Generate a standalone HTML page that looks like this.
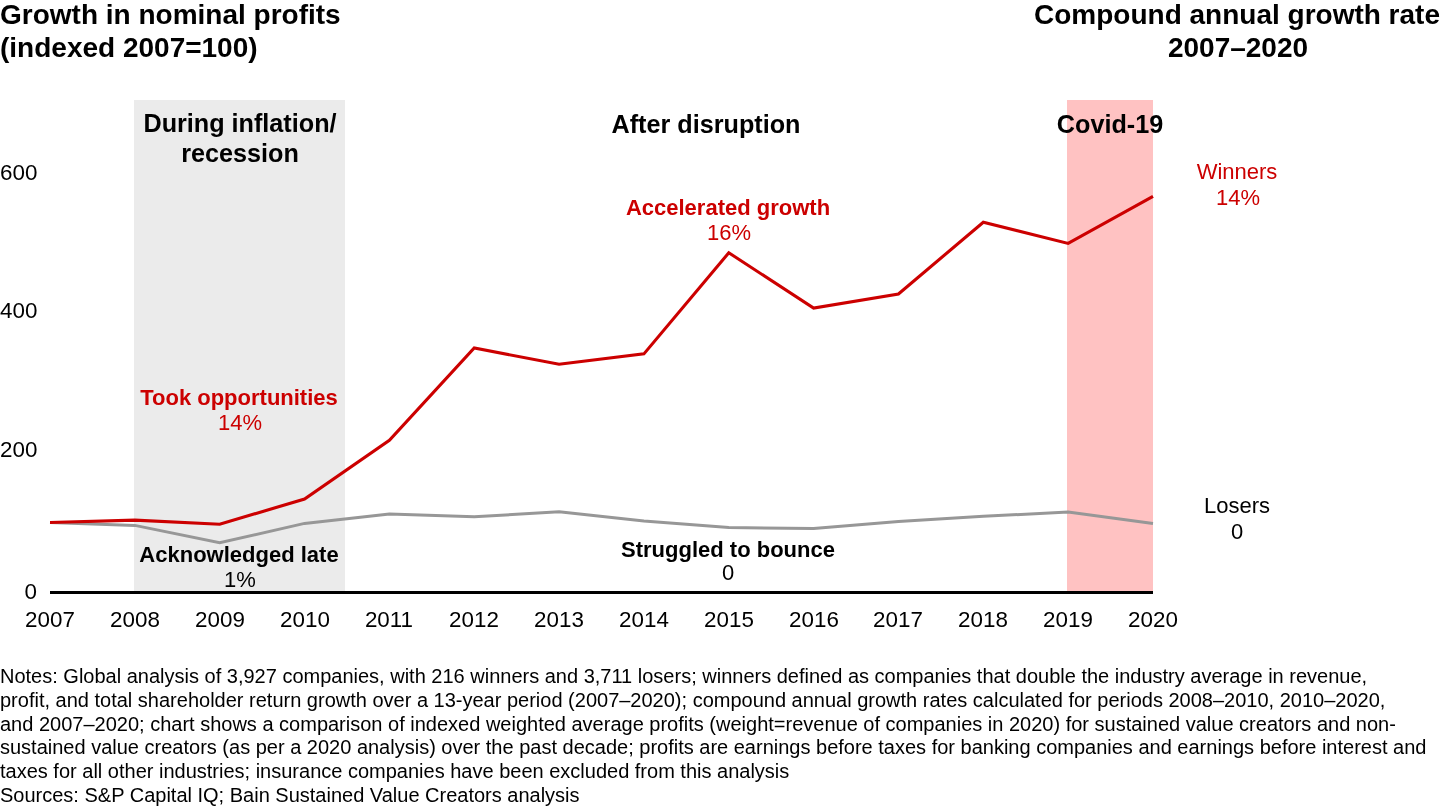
<!DOCTYPE html>
<html><head><meta charset="utf-8">
<style>
html,body{margin:0;padding:0;background:#fff;overflow:hidden;}
body{width:1440px;height:810px;position:relative;overflow:hidden;font-family:"Liberation Sans",sans-serif;color:#000;}
.t{position:absolute;white-space:nowrap;line-height:1;will-change:transform;}
svg{position:absolute;left:0;top:0;}
</style></head><body>
<svg width="1440" height="810" viewBox="0 0 1440 810">
<rect x="134" y="100" width="211" height="491" fill="#ebebeb"/>
<rect x="1067" y="100" width="86" height="491" fill="#ffc2c2"/>
<polyline fill="none" stroke="#979797" stroke-width="3.0" stroke-linejoin="miter" points="50.00,522.5 134.85,525.4 219.69,542.8 304.54,523.4 389.38,514 474.23,516.7 559.08,511.8 643.92,521 728.77,527.5 813.62,528.5 898.46,521.5 983.31,516.3 1068.15,512 1153.00,523.5"/>
<polyline fill="none" stroke="#cc0000" stroke-width="3.1" stroke-linejoin="miter" points="50.00,522.5 134.85,520.1 219.69,524.3 304.54,499 389.38,440.2 474.23,348 559.08,364.3 643.92,353.9 728.77,252.8 813.62,308.1 898.46,294 983.31,222.2 1068.15,243.4 1153.00,196.3"/>
<rect x="50" y="591" width="1103" height="3" fill="#000"/>
</svg>
<div class="t" id="t0" style="top:1.00px;font-size:28px;color:#000;font-weight:bold;left:0.00px;">Growth in nominal profits</div>
<div class="t" id="t1" style="top:34.20px;font-size:28px;color:#000;font-weight:bold;left:0.00px;">(indexed 2007=100)</div>
<div class="t" id="t2" style="top:1.00px;font-size:28px;color:#000;font-weight:bold;left:-560.00px;width:2000px;text-align:right;">Compound annual growth rate</div>
<div class="t" id="t3" style="top:34.20px;font-size:28px;color:#000;font-weight:bold;left:237.50px;width:2000px;text-align:center;">2007–2020</div>
<div class="t" id="t4" style="top:111.41px;font-size:25.2px;color:#000;font-weight:bold;left:-760.10px;width:2000px;text-align:center;">During inflation/</div>
<div class="t" id="t5" style="top:141.41px;font-size:25.2px;color:#000;font-weight:bold;left:-760.10px;width:2000px;text-align:center;">recession</div>
<div class="t" id="t6" style="top:111.51px;font-size:25.2px;color:#000;font-weight:bold;left:-294.50px;width:2000px;text-align:center;">After disruption</div>
<div class="t" id="t7" style="top:111.51px;font-size:25.2px;color:#000;font-weight:bold;left:109.90px;width:2000px;text-align:center;">Covid-19</div>
<div class="t" id="t8" style="top:162.20px;font-size:22.4px;color:#000;left:0.00px;">600</div>
<div class="t" id="t9" style="top:300.01px;font-size:22.4px;color:#000;left:0.00px;">400</div>
<div class="t" id="t10" style="top:438.51px;font-size:22.4px;color:#000;left:0.00px;">200</div>
<div class="t" id="t11" style="top:581.40px;font-size:22.4px;color:#000;left:-1963.50px;width:2000px;text-align:right;">0</div>
<div class="t" id="t12" style="top:608.61px;font-size:22.4px;color:#000;left:-950.00px;width:2000px;text-align:center;">2007</div>
<div class="t" id="t13" style="top:608.61px;font-size:22.4px;color:#000;left:-865.15px;width:2000px;text-align:center;">2008</div>
<div class="t" id="t14" style="top:608.61px;font-size:22.4px;color:#000;left:-780.31px;width:2000px;text-align:center;">2009</div>
<div class="t" id="t15" style="top:608.61px;font-size:22.4px;color:#000;left:-695.46px;width:2000px;text-align:center;">2010</div>
<div class="t" id="t16" style="top:608.61px;font-size:22.4px;color:#000;left:-610.62px;width:2000px;text-align:center;">2011</div>
<div class="t" id="t17" style="top:608.61px;font-size:22.4px;color:#000;left:-525.77px;width:2000px;text-align:center;">2012</div>
<div class="t" id="t18" style="top:608.61px;font-size:22.4px;color:#000;left:-440.92px;width:2000px;text-align:center;">2013</div>
<div class="t" id="t19" style="top:608.61px;font-size:22.4px;color:#000;left:-356.08px;width:2000px;text-align:center;">2014</div>
<div class="t" id="t20" style="top:608.61px;font-size:22.4px;color:#000;left:-271.23px;width:2000px;text-align:center;">2015</div>
<div class="t" id="t21" style="top:608.61px;font-size:22.4px;color:#000;left:-186.38px;width:2000px;text-align:center;">2016</div>
<div class="t" id="t22" style="top:608.61px;font-size:22.4px;color:#000;left:-101.54px;width:2000px;text-align:center;">2017</div>
<div class="t" id="t23" style="top:608.61px;font-size:22.4px;color:#000;left:-16.69px;width:2000px;text-align:center;">2018</div>
<div class="t" id="t24" style="top:608.61px;font-size:22.4px;color:#000;left:68.15px;width:2000px;text-align:center;">2019</div>
<div class="t" id="t25" style="top:608.61px;font-size:22.4px;color:#000;left:153.00px;width:2000px;text-align:center;">2020</div>
<div class="t" id="t26" style="top:386.75px;font-size:22px;color:#cc0000;font-weight:bold;left:-760.80px;width:2000px;text-align:center;">Took opportunities</div>
<div class="t" id="t27" style="top:411.75px;font-size:22px;color:#cc0000;left:-760.00px;width:2000px;text-align:center;">14%</div>
<div class="t" id="t28" style="top:197.31px;font-size:22px;color:#cc0000;font-weight:bold;left:-272.25px;width:2000px;text-align:center;">Accelerated growth</div>
<div class="t" id="t29" style="top:222.00px;font-size:22px;color:#cc0000;left:-271.50px;width:2000px;text-align:center;">16%</div>
<div class="t" id="t30" style="top:160.91px;font-size:22px;color:#cc0000;left:237.00px;width:2000px;text-align:center;">Winners</div>
<div class="t" id="t31" style="top:186.91px;font-size:22px;color:#cc0000;left:237.60px;width:2000px;text-align:center;">14%</div>
<div class="t" id="t32" style="top:544.41px;font-size:22px;color:#000;font-weight:bold;left:-760.60px;width:2000px;text-align:center;">Acknowledged late</div>
<div class="t" id="t33" style="top:568.50px;font-size:22px;color:#000;left:-760.00px;width:2000px;text-align:center;">1%</div>
<div class="t" id="t34" style="top:538.70px;font-size:22px;color:#000;font-weight:bold;left:-271.70px;width:2000px;text-align:center;">Struggled to bounce</div>
<div class="t" id="t35" style="top:562.00px;font-size:22px;color:#000;left:-271.80px;width:2000px;text-align:center;">0</div>
<div class="t" id="t36" style="top:495.11px;font-size:22px;color:#000;left:237.40px;width:2000px;text-align:center;">Losers</div>
<div class="t" id="t37" style="top:521.00px;font-size:22px;color:#000;left:237.10px;width:2000px;text-align:center;">0</div>
<div class="t" id="t38" style="top:666.11px;font-size:20px;color:#000;left:0.00px;">Notes: Global analysis of 3,927 companies, with 216 winners and 3,711 losers; winners defined as companies that double the industry average in revenue,</div>
<div class="t" id="t39" style="top:689.84px;font-size:20px;color:#000;left:0.00px;">profit, and total shareholder return growth over a 13-year period (2007–2020); compound annual growth rates calculated for periods 2008–2010, 2010–2020,</div>
<div class="t" id="t40" style="top:713.54px;font-size:20px;color:#000;left:0.00px;">and 2007–2020; chart shows a comparison of indexed weighted average profits (weight=revenue of companies in 2020) for sustained value creators and non-</div>
<div class="t" id="t41" style="top:737.26px;font-size:20px;color:#000;left:0.00px;">sustained value creators (as per a 2020 analysis) over the past decade; profits are earnings before taxes for banking companies and earnings before interest and</div>
<div class="t" id="t42" style="top:760.98px;font-size:20px;color:#000;left:0.00px;">taxes for all other industries; insurance companies have been excluded from this analysis</div>
<div class="t" id="t43" style="top:784.70px;font-size:20px;color:#000;left:0.00px;">Sources: S&amp;P Capital IQ; Bain Sustained Value Creators analysis</div>
</body></html>
